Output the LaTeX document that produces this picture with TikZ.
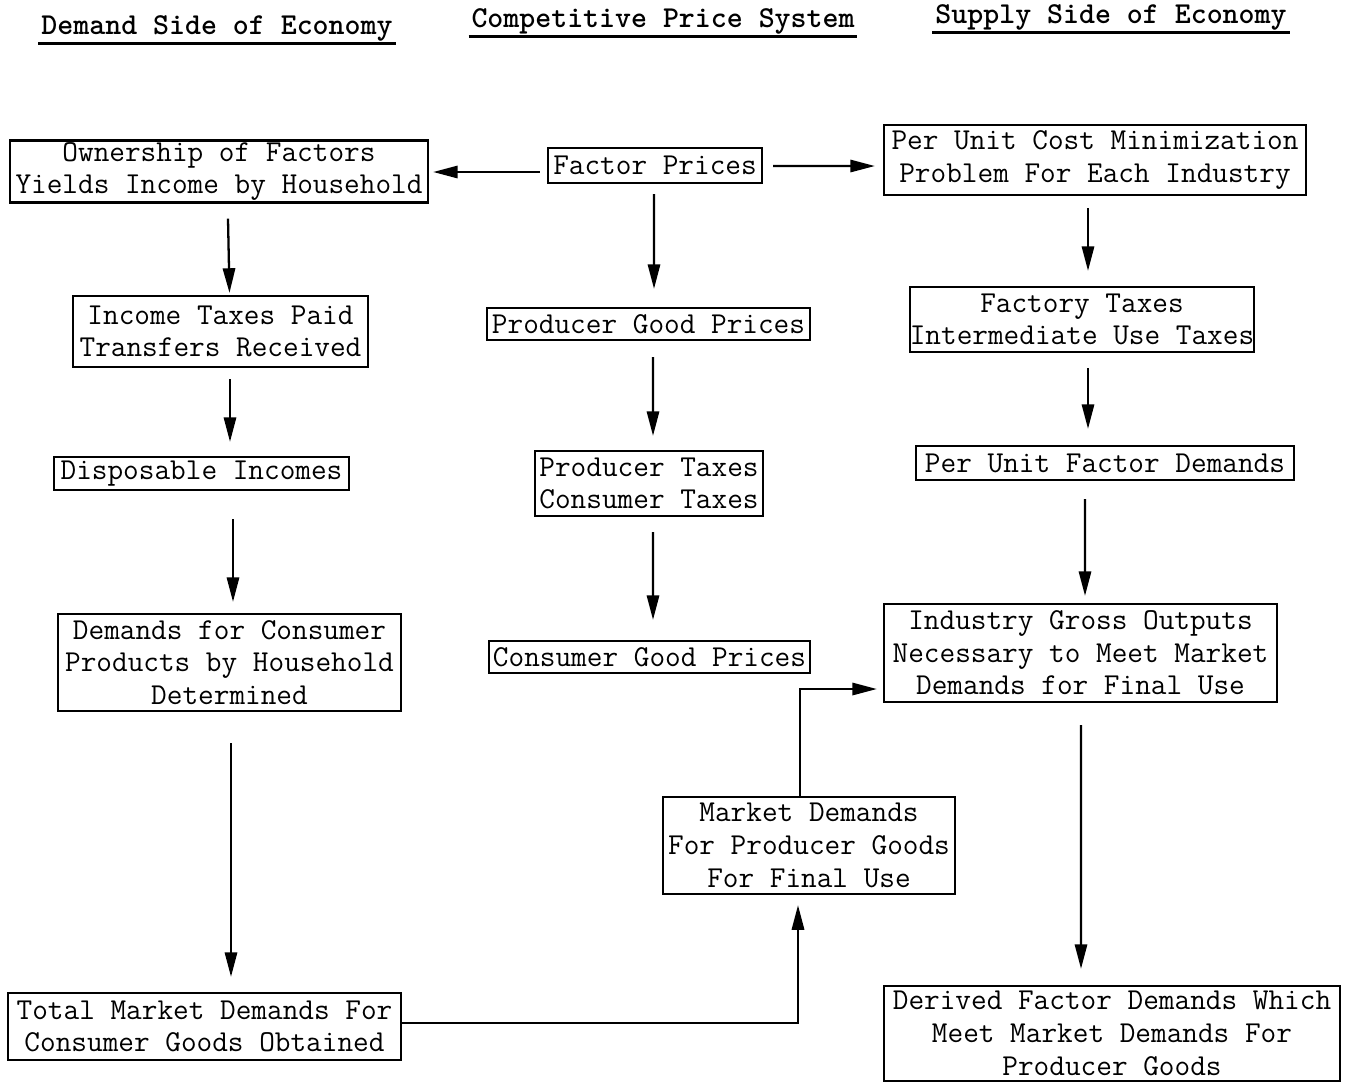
\documentclass[tikz,border=0pt]{standalone}
\usetikzlibrary{arrows.meta}
\newcommand\pxl{0.02cm}
\tikzset{
  tw/.style={font={\ttfamily\fontsize{17.3pt}{18.6pt}\selectfont}},
  box/.style={tw, draw, line width=1.3pt, inner sep=0pt, align=center},
  sz/.style n args={2}{minimum width=#1*\pxl, minimum height=#2*\pxl},
  head/.style={font={\ttfamily\bfseries\fontsize{17.3pt}{18.6pt}\selectfont}, inner sep=1.5pt},
  uline/.style={line width=1.6pt},
  arr/.style={line width=1.3pt, -{Triangle[width=7pt,length=14pt]}},
}
\begin{document}
\begin{tikzpicture}[x=0.02cm, y=-0.02cm]
\useasboundingbox (0,0) rectangle (1355,1083);

% headings
\node[head] (hd1) at (217,28) {Demand Side of Economy};
\node[head] (hd2) at (663,21) {Competitive Price System};
\node[head] (hd3) at (1111,17) {Supply Side of Economy};
\draw[uline] (hd1.south west) -- (hd1.south east);
\draw[uline] (hd2.south west) -- (hd2.south east);
\draw[uline] (hd3.south west) -- (hd3.south east);

% boxes
\node[box, sz={418}{62}] (own) at (219,171.5) {Ownership of Factors\\Yields Income by Household};
\node[box, sz={214}{35}] (fp) at (655,165.5) {Factor Prices};
\node[box, sz={422}{70}] (puc) at (1095,160) {Per Unit Cost Minimization\\Problem For Each Industry};
\node[box, sz={295}{71}] (inc) at (220.5,331.5) {Income Taxes Paid\\Transfers Received};
\node[box, sz={323}{32}] (pgp) at (648.5,324) {Producer Good Prices};
\node[box, sz={332}{65}] (fac) at (1082,319.5) {Factory Taxes\\Intermediate Use Taxes};
\node[box, sz={295}{33}] (dis) at (201.5,473.5) {Disposable Incomes};
\node[box, sz={228}{65}] (ptx) at (649,483.5) {Producer Taxes\\Consumer Taxes};
\node[box, sz={378}{34}] (pufd) at (1105,463) {Per Unit Factor Demands};
\node[box, sz={343}{97}] (dcp) at (229.5,662.5) {Demands for Consumer\\Products by Household\\Determined};
\node[box, sz={321}{32}] (cgp) at (649.5,657) {Consumer Good Prices};
\node[box, sz={393}{98}] (igo) at (1080.5,653) {Industry Gross Outputs\\Necessary to Meet Market\\Demands for Final Use};
\node[box, sz={292}{97}] (mdp) at (809,845.5) {Market Demands\\For Producer Goods\\For Final Use};
\node[box, sz={393}{67}] (tmd) at (204.5,1026.5) {Total Market Demands For\\Consumer Goods Obtained};
\node[box, sz={456}{95}] (dfd) at (1112,1033.5) {Derived Factor Demands Which\\Meet Market Demands For\\Producer Goods};

% arrows
\draw[arr] ([shift={(-7,6.5)}]fp.west) -- ([shift={(4,0.5)}]own.east);
\draw[arr] ([shift={(10,0.5)}]fp.east) -- ([shift={(-8,6)}]puc.west);
\draw[arr] ([shift={(9,15)}]own.south) -- ([shift={(9,-2)}]inc.north);
\draw[arr] ([shift={(9.5,11)}]inc.south) -- ([shift={(28.5,-14)}]dis.north);
\draw[arr] ([shift={(31.5,28)}]dis.south) -- ([shift={(3.5,-11)}]dcp.north);
\draw[arr] ([shift={(1.5,31)}]dcp.south) -- ([shift={(26.5,-15)}]tmd.north);
\draw[arr] ([shift={(-1,10)}]fp.south) -- ([shift={(5.5,-18)}]pgp.north);
\draw[arr] ([shift={(4.5,16)}]pgp.south) -- ([shift={(4,-14)}]ptx.north);
\draw[arr] ([shift={(4,15)}]ptx.south) -- ([shift={(3.5,-20)}]cgp.north);
\draw[arr] ([shift={(-7,12)}]puc.south) -- ([shift={(6,-15)}]fac.north);
\draw[arr] ([shift={(6,15)}]fac.south) -- ([shift={(-17,-16)}]pufd.north);
\draw[arr] ([shift={(-20,18)}]pufd.south) -- ([shift={(4.5,-7)}]igo.north);
\draw[arr] ([shift={(0.5,22)}]igo.south) -- ([shift={(-31,-16)}]dfd.north);
\draw[arr] ([shift={(0,-3.5)}]tmd.east) -| ([shift={(-11,10)}]mdp.south);
\draw[arr] ([shift={(-9,0)}]mdp.north) |- ([shift={(-6,36)}]igo.west);
\end{tikzpicture}
\end{document}
